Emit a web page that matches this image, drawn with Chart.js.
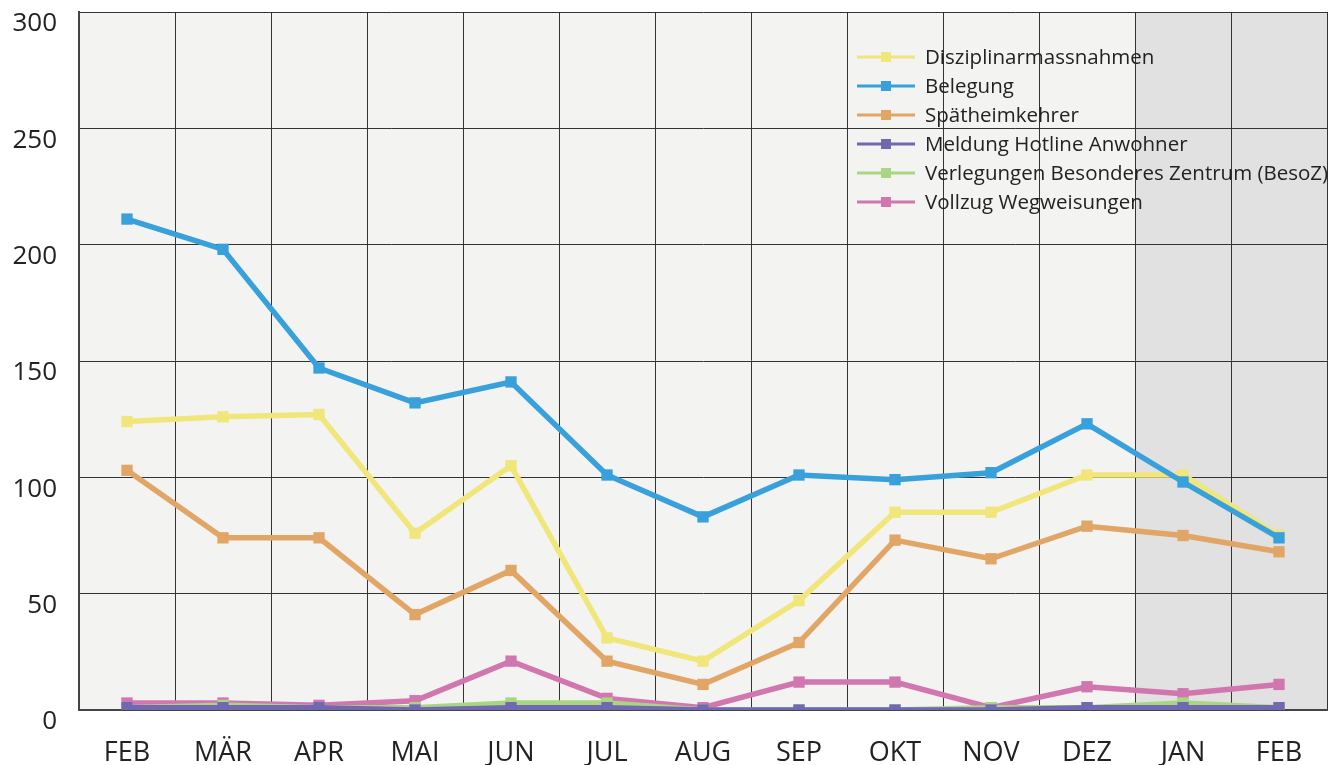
<!DOCTYPE html>
<html>
<head>
<meta charset="utf-8">
<script src="https://cdn.jsdelivr.net/npm/chart.js@4"></script>
<style>
  html, body { margin: 0; padding: 0; background: #fff; overflow: hidden; }
</style>
</head>
<body>
<canvas id="myChart" width="1335" height="765"></canvas>
<script>
  // months (x axis)
  const months = ['FEB', 'MÄR', 'APR', 'MAI', 'JUN', 'JUL', 'AUG', 'SEP', 'OKT', 'NOV', 'DEZ', 'JAN', 'FEB'];

  const disziplinar = [124, 126, 127, 76, 105, 31, 21, 47, 85, 85, 101, 101, 75];
  const belegung = [211, 198, 147, 132, 141, 101, 83, 101, 99, 102, 123, 98, 74];
  const spaetheimkehrer = [103, 74, 74, 41, 60, 21, 11, 29, 73, 65, 79, 75, 68];
  const hotline = [1, 1, 1, 0, 1, 1, 0, 0, 0, 0, 1, 1, 1];
  const besoz = [1, 2, 1, 1, 3, 3, 0, 0, 0, 1, 1, 3, 1];
  const wegweisungen = [3, 3, 2, 4, 21, 5, 1, 12, 12, 1, 10, 7, 11];

  const yTicks = [0, 50, 100, 150, 200, 250, 300];

  const font = "'Open Sans', 'Noto Sans', sans-serif";

  function series(label, data, color, order) {
    return {
      label: label,
      data: data,
      borderColor: color,
      backgroundColor: color,
      borderWidth: 5.5,
      pointStyle: 'rect',
      pointRadius: 8,
      pointHoverRadius: 8,
      pointBorderWidth: 0,
      tension: 0,
      fill: false,
      order: order
    };
  }

  // plot background, last two months shaded darker
  const plotBackground = {
    id: 'plotBackground',
    beforeDraw(chart) {
      const { ctx, chartArea: a, scales: { x } } = chart;
      const step = x.getPixelForValue(1) - x.getPixelForValue(0);
      const split = x.getPixelForValue(11) - step / 2;
      ctx.save();
      ctx.fillStyle = '#f3f3f2';
      ctx.fillRect(a.left, a.top, a.right - a.left, a.bottom - a.top);
      ctx.fillStyle = '#e0e1e0';
      ctx.fillRect(split, a.top, a.right - split, a.bottom - a.top);
      ctx.restore();
    }
  };

  // legend floating inside the plot, top right
  const floatingLegend = {
    id: 'floatingLegend',
    afterDraw(chart) {
      const ctx = chart.ctx;
      const x0 = 857, y0 = 57, rowH = 29;
      ctx.save();
      ctx.font = '20.5px ' + font;
      ctx.textBaseline = 'middle';
      chart.data.datasets.forEach((ds, i) => {
        const y = y0 + i * rowH;
        ctx.strokeStyle = ds.borderColor;
        ctx.lineWidth = 3;
        ctx.beginPath();
        ctx.moveTo(x0, y);
        ctx.lineTo(x0 + 58, y);
        ctx.stroke();
        ctx.fillStyle = ds.borderColor;
        ctx.fillRect(x0 + 24, y - 5, 10, 10);
        ctx.fillStyle = '#222';
        ctx.fillText(ds.label, x0 + 68, y + 1);
      });
      ctx.restore();
    }
  };

  const ctx = document.getElementById('myChart').getContext('2d');

  const myChart = new Chart(ctx, {
    type: 'line',
    data: {
      labels: months,
      datasets: [
        series('Disziplinarmassnahmen', disziplinar, '#f0e67a', 6),
        series('Belegung', belegung, '#38a0da', 5),
        series('Spätheimkehrer', spaetheimkehrer, '#e1a566', 4),
        series('Meldung Hotline Anwohner', hotline, '#7068b0', 1),
        series('Verlegungen Besonderes Zentrum (BesoZ)', besoz, '#a8d682', 2),
        series('Vollzug Wegweisungen', wegweisungen, '#d276b0', 3)
      ]
    },
    options: {
      responsive: false,
      animation: false,
      layout: { padding: { top: 12, left: 0, right: 0, bottom: 0 } },
      plugins: {
        legend: { display: false },
        tooltip: { enabled: false }
      },
      scales: {
        x: {
          offset: true,
          grid: { offset: true, color: '#333', lineWidth: 1, drawTicks: false },
          border: { color: '#444', width: 2 },
          ticks: {
            color: '#222',
            padding: 27,
            maxRotation: 0,
            autoSkip: false,
            font: { family: font, size: 27 }
          },
          afterFit(scale) {
            scale.height = 55;
            scale.paddingLeft = 0;
            scale.paddingRight = 0;
          }
        },
        y: {
          min: 0,
          max: 300,
          afterBuildTicks(scale) { scale.ticks = yTicks.map(v => ({ value: v })); },
          grid: { color: '#333', lineWidth: 1, drawTicks: false },
          border: { color: '#444', width: 2 },
          ticks: {
            color: '#222',
            padding: 22,
            labelOffset: 12,
            font: { family: font, size: 26, lineHeight: 1 }
          },
          afterFit(scale) {
            scale.width = 79;
            scale.paddingTop = 0;
            scale.paddingBottom = 0;
          }
        }
      }
    },
    plugins: [plotBackground, floatingLegend]
  });
</script>
</body>
</html>
